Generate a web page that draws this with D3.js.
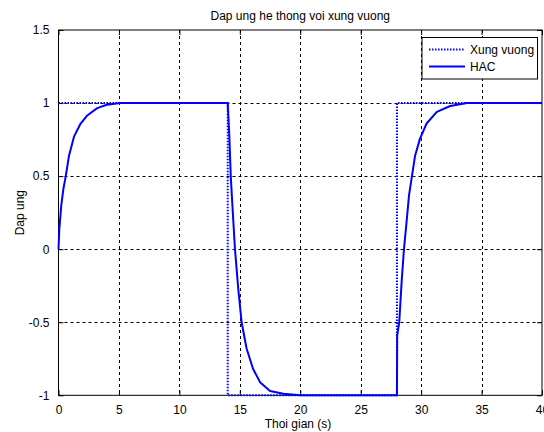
<!DOCTYPE html>
<html>
<head>
<meta charset="utf-8">
<script src="https://cdn.jsdelivr.net/npm/d3@7"></script>
<style>
  html, body { margin: 0; padding: 0; background: #fff; }
  svg { display: block; font-family: "Liberation Sans", Arial, sans-serif; }
</style>
</head>
<body>
<svg id="chart" width="544" height="432"></svg>
<script>
const titleText = "Dap ung he thong voi xung vuong";
const xLabel = "Thoi gian (s)";
const yLabel = "Dap ung";
const xTicks = [0, 5, 10, 15, 20, 25, 30, 35, 40];
const yTicks = [-1, -0.5, 0, 0.5, 1, 1.5];
const seriesNames = ["Xung vuong", "HAC"];

// Square wave input
const squareT = [0, 14, 14, 28, 28, 40];
const squareY = [1, 1, -1, -1, 1, 1];

// HAC response
const hacT = [0, 0.07, 0.23, 0.4, 0.6, 0.87, 1.28, 1.83, 2.38, 3.2, 4.0, 5.1, 14.0,
  14.13, 14.25, 14.4, 14.6, 14.87, 15.15, 15.56, 16.1, 16.67, 17.5, 18.6, 20.0, 28.0,
  28.02, 28.19, 28.39, 28.58, 28.8, 29.0, 29.24, 29.5, 29.9, 30.45, 31.3, 32.4, 33.8, 40.0];
const hacY = [0, 0.14, 0.30, 0.41, 0.5, 0.64, 0.77, 0.86, 0.915, 0.965, 0.988, 1.0, 1.0,
  0.78, 0.5, 0.28, 0, -0.27, -0.5, -0.68, -0.82, -0.91, -0.97, -0.99, -1.0, -1.0,
  -0.59, -0.5, -0.22, 0, 0.19, 0.37, 0.5, 0.64, 0.755, 0.86, 0.94, 0.98, 1.0, 1.0];

const svg = d3.select("#chart");
const L = 58.5, R = 542, T = 30, B = 395.3;
const x = d3.scaleLinear().domain([0, 40]).range([L, R]);
const y = d3.scaleLinear().domain([-1, 1.5]).range([B, T]);

// grid
const g = svg.append("g");
g.selectAll(".gx").data(xTicks.slice(1, -1)).enter().append("line")
  .attr("x1", d => Math.round(x(d)) + 0.5).attr("x2", d => Math.round(x(d)) + 0.5)
  .attr("y1", T).attr("y2", B)
  .attr("stroke", "#000").attr("stroke-width", 1).attr("stroke-dasharray", "3,3");
g.selectAll(".gy").data(yTicks.slice(1, -1)).enter().append("line")
  .attr("y1", d => Math.round(y(d)) + 0.5).attr("y2", d => Math.round(y(d)) + 0.5)
  .attr("x1", L).attr("x2", R)
  .attr("stroke", "#000").attr("stroke-width", 1).attr("stroke-dasharray", "3,3");

// axes
const fmt = d => String(d);
const xAxis = d3.axisBottom(x).tickValues(xTicks).tickFormat(fmt).tickSizeInner(-5).tickSizeOuter(0).tickPadding(10);
const yAxis = d3.axisLeft(y).tickValues(yTicks).tickFormat(fmt).tickSizeInner(-5).tickSizeOuter(0).tickPadding(9);
const xTop = d3.axisTop(x).tickValues(xTicks).tickFormat("").tickSizeInner(-5).tickSizeOuter(0);
const yRight = d3.axisRight(y).tickValues(yTicks).tickFormat("").tickSizeInner(-5).tickSizeOuter(0);

function styleAxis(sel) {
  sel.select(".domain").remove();
  sel.selectAll("line").attr("stroke", "#000");
  sel.selectAll("text").attr("fill", "#000").style("font-size", "12px")
    .style("font-family", '"Liberation Sans", Arial, sans-serif');
}
svg.append("g").attr("transform", `translate(0,${B})`).call(xAxis).call(styleAxis);
svg.append("g").attr("transform", `translate(${L},0)`).call(yAxis).call(styleAxis);
svg.append("g").attr("transform", `translate(0,${T})`).call(xTop).call(styleAxis);
svg.append("g").attr("transform", `translate(${R},0)`).call(yRight).call(styleAxis);

// box
svg.append("rect").attr("x", L).attr("y", T).attr("width", R - L).attr("height", B - T)
  .attr("fill", "none").attr("stroke", "#000").attr("stroke-width", 1);

// lines
const line = d3.line().x(d => x(d[0])).y(d => y(d[1]));
const sq = squareT.map((t, i) => [t, squareY[i]]);
const hac = hacT.map((t, i) => [t, hacY[i]]);
svg.append("path").datum(sq).attr("d", line).attr("fill", "none")
  .attr("stroke", "#0000ff").attr("stroke-width", 2).attr("stroke-dasharray", "1.5,1.5");
svg.append("path").datum(hac).attr("d", line).attr("fill", "none")
  .attr("stroke", "#0000ff").attr("stroke-width", 2).attr("stroke-linejoin", "round");

// title & labels
svg.append("text").attr("x", (L + R) / 2).attr("y", 20).attr("text-anchor", "middle")
  .style("font-size", "12px").attr("fill", "#000").text(titleText);
svg.append("text").attr("x", 298).attr("y", 428).attr("text-anchor", "middle")
  .style("font-size", "12px").attr("fill", "#000").text(xLabel);
svg.append("text").attr("transform", `translate(24,${(T + B) / 2}) rotate(-90)`)
  .attr("text-anchor", "middle").style("font-size", "12px").attr("fill", "#000").text(yLabel);

// legend
const lg = svg.append("g");
lg.append("rect").attr("x", 422).attr("y", 37.5).attr("width", 115.5).attr("height", 41.5)
  .attr("fill", "#fff").attr("stroke", "#000").attr("stroke-width", 1);
const legY = [49.5, 66.5];
seriesNames.forEach((name, i) => {
  lg.append("line").attr("x1", 429).attr("x2", 465).attr("y1", legY[i]).attr("y2", legY[i])
    .attr("stroke", "#0000ff").attr("stroke-width", 2)
    .attr("stroke-dasharray", i === 0 ? "1.5,1.5" : null);
  lg.append("text").attr("x", 470).attr("y", legY[i] + 4.5).style("font-size", "12px")
    .attr("fill", "#000").text(name);
});
</script>
</body>
</html>
